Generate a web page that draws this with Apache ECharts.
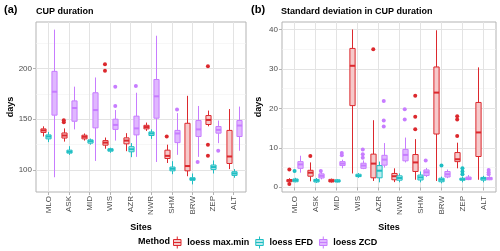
<!DOCTYPE html>
<html><head><meta charset="utf-8">
<script src="https://cdn.jsdelivr.net/npm/echarts@6/dist/echarts.min.js"></script>
<style>html,body{margin:0;padding:0;background:#fff}#c{width:500px;height:251px}</style>
</head><body><div id="c"></div>
<script>
const sites = ['MLO','ASK','MID','WIS','AZR','NWR','SHM','BRW','ZEP','ALT'];
const methods = ['loess max.min','loess EFD','loess ZCD'];
const ticksA = [100,150,200];
const minorA = [125,175,225];
const ticksB = [0,10,20,30,40];
const minorB = [5,15,25,35];

// Panel (a) CUP duration: [min, q1, median, q3, max] per site
const durMaxMin = [[133,137,139,140.5,143],[128,131.5,134,136.5,141],[129,130.7,132.7,134.3,136],[121,124.5,127,129,132],[118.6,125.8,129,131.7,136.3],[138.5,140.5,142.3,144,146.7],[107,111.4,114,119.6,125],[94,99.3,104,146,173],[143,144.8,149.3,153.6,158.5],[101,106.5,113.4,139,160]];
const durEFD = [[127.5,130.7,133,134.6,137.5],[115,116.7,118,119.6,123.5],[125,126.5,128.4,129.7,131],[117,118.6,119.9,121,122],[112.7,118,120.5,123,126.5],[130.7,134,136,137.5,140],[96,99.3,101.3,103,108.8],[86,90,91.2,92.5,96.7],[96.7,100.7,103,105,109.5],[92.5,94.8,96.7,98.4,101]];
const durZCD = [[93,154,177,197,238],[140,148,161,168,182],[109,141.5,159,176,191],[129,140,144.4,150,159],[113,134.6,141,153,176],[108,151,172.5,189,232],[115,127,136,139,156],[113,133,140,148.7,163],[126.5,136.3,139.5,142.8,148.7],[119,133,143.8,148.7,162.4]];
// outliers: [site number, value]
const durMaxMinOut = [[2,147],[2,149],[4,197.5],[4,204],[7,133],[9,202],[9,125],[9,114]];
const durEFDOut = [];
const durZCDOut = [[4,163],[4,182],[5,182.6],[7,159.5],[8,108],[9,119]];

// Panel (b) SD of CUP duration
const sdMaxMin = [[1.0,1.4,1.7,1.95,2.3],[1.5,2.8,3.7,4.3,6.3],[1.2,1.35,1.6,2.0,2.2],[3.5,20.7,30.8,35.2,40],[1.6,2.4,6.0,8.4,17],[1.3,1.9,2.8,3.5,4.8],[1.9,4.0,6.3,8.3,12.2],[1.6,13.5,24,30.5,39.8],[4.8,6.5,7.1,8.8,11.3],[1.9,7.8,13.9,21.5,30.4]];
const sdEFD = [[1.25,1.4,1.8,2.1,2.4],[1.1,1.34,1.7,2.0,2.35],[1.25,1.35,1.55,1.9,2.1],[2.4,2.7,2.9,3.3,3.6],[1.25,2.4,4.2,5.5,6.5],[1.25,1.8,2.35,2.9,3.5],[1.25,1.85,2.5,3.1,4.0],[1.0,1.4,1.9,2.3,2.7],[1.25,1.8,2.0,2.3,2.7],[1.25,1.8,2.2,2.5,2.9]];
const sdZCD = [[3.7,4.8,5.8,6.5,8.0],[2.0,2.35,2.9,3.4,3.9],[4.8,5.5,6.0,6.5,7.0],[4.6,4.8,5.5,6.1,6.8],[5.0,5.6,7.0,8.1,11.2],[6.3,6.7,8.2,9.6,12.6],[2.6,3.0,3.8,4.4,4.9],[2.3,2.6,3.3,4.0,4.5],[1.8,1.95,2.25,2.6,3.1],[1.8,1.9,2.2,2.5,2.8]];
const sdMaxMinOut = [[1,4.5],[1,0.8],[2,7.9],[5,35],[7,14.7],[7,17.9],[7,23.2],[9,13],[9,17.2],[9,18]];
const sdEFDOut = [[1,4.1],[8,5.5],[9,3.3],[9,4.0],[9,4.8]];
const sdZCDOut = [[2,4.1],[3,8.1],[3,8.7],[4,7.5],[4,8.4],[4,9.6],[5,15.4],[5,16.9],[5,21.9],[6,17.2],[6,19.8],[7,6.8],[10,3.3],[10,3.8],[10,4.4]];

const colors = ['#DC282D','#1EBEC3','#C77CFF'];
const fills = ['rgba(220,40,45,0.25)','rgba(30,190,195,0.3)','rgba(199,124,255,0.55)'];
const offsets = [-0.25, 0, 0.25];
const BOXW = 0.25;
const FONT = 'Liberation Sans, Arial, sans-serif';

function boxRender(off, color, fill) {
  return function (params, api) {
    const x = api.value(0) + off;
    const lo = api.coord([x, api.value(1)]);
    const q1 = api.coord([x, api.value(2)]);
    const md = api.coord([x, api.value(3)]);
    const q3 = api.coord([x, api.value(4)]);
    const hi = api.coord([x, api.value(5)]);
    const w = api.size([BOXW, 0])[0];
    const cx = Math.round(lo[0]) + 0.5;
    return {
      type: 'group',
      children: [
        {type:'line', shape:{x1:cx,y1:lo[1],x2:cx,y2:q1[1]}, style:{stroke:color,lineWidth:1}},
        {type:'line', shape:{x1:cx,y1:q3[1],x2:cx,y2:hi[1]}, style:{stroke:color,lineWidth:1}},
        {type:'rect', shape:{x:cx-w/2,y:q3[1],width:w,height:q1[1]-q3[1]}, style:{fill:'#fff',stroke:null}},
        {type:'rect', shape:{x:cx-w/2,y:q3[1],width:w,height:q1[1]-q3[1]}, style:{fill:fill,stroke:color,lineWidth:1}},
        {type:'line', shape:{x1:cx-w/2,y1:md[1],x2:cx+w/2,y2:md[1]}, style:{stroke:color,lineWidth:2}}
      ]
    };
  };
}

function boxSeries(arr, m, gi) {
  return {
    type: 'custom', name: methods[m], xAxisIndex: gi, yAxisIndex: gi*2,
    renderItem: boxRender(offsets[m], colors[m], fills[m]),
    itemStyle: {color: fills[m], borderColor: colors[m]},
    encode: {x: 0, y: [1,2,3,4,5]},
    data: arr.map((d, i) => [i + 1].concat(d)),
    z: 3, clip: true
  };
}
function outSeries(arr, m, gi) {
  return {
    type: 'scatter', name: methods[m], xAxisIndex: gi, yAxisIndex: gi*2,
    symbolSize: 4, itemStyle: {color: colors[m], opacity: 1},
    data: arr.map(d => [d[0] + offsets[m], d[1]]),
    z: 4, silent: true
  };
}

function xAxis(gi) {
  return {
    type: 'value', gridIndex: gi, min: 0.4, max: 10.6,
    name: 'Sites', nameLocation: 'middle', nameGap: 26,
    nameTextStyle: {fontFamily: FONT, fontSize: 9, fontWeight: 'bold', color: '#000'},
    axisLine: {show: false},
    axisTick: {show: true, length: 3, lineStyle: {color: '#b3b3b3'}, customValues: [1,2,3,4,5,6,7,8,9,10]},
    axisLabel: {rotate: 90, margin: 4, fontFamily: FONT, fontSize: 8, color: '#4d4d4d',
      customValues: [1,2,3,4,5,6,7,8,9,10], formatter: v => sites[Math.round(v) - 1] || ''},
    splitLine: {show: true, lineStyle: {color: '#e3e3e3', width: 1}}
  };
}
function yAxes(gi, min, max, ticks, minor, gap) {
  return [{
    type: 'value', gridIndex: gi, min: min, max: max,
    name: 'days', nameLocation: 'middle', nameGap: gap,
    nameTextStyle: {fontFamily: FONT, fontSize: 9, fontWeight: 'bold', color: '#000'},
    axisLine: {show: false},
    axisTick: {show: true, length: 3, lineStyle: {color: '#b3b3b3'}, customValues: ticks},
    axisLabel: {margin: 4, fontFamily: FONT, fontSize: 8, color: '#4d4d4d', customValues: ticks},
    splitLine: {show: true, lineStyle: {color: '#e3e3e3', width: 1}}
  }, {
    type: 'value', gridIndex: gi, min: min, max: max, position: 'left',
    axisLine: {show: false},
    axisTick: {show: false, customValues: minor},
    axisLabel: {show: false, customValues: minor},
    splitLine: {show: true, lineStyle: {color: '#f2f2f2', width: 0.6}}
  }];
}

const series = [
  boxSeries(durMaxMin, 0, 0), boxSeries(durEFD, 1, 0), boxSeries(durZCD, 2, 0),
  outSeries(durMaxMinOut, 0, 0), outSeries(durEFDOut, 1, 0), outSeries(durZCDOut, 2, 0),
  boxSeries(sdMaxMin, 0, 1), boxSeries(sdEFD, 1, 1), boxSeries(sdZCD, 2, 1),
  outSeries(sdMaxMinOut, 0, 1), outSeries(sdEFDOut, 1, 1), outSeries(sdZCDOut, 2, 1)
];

const icon = 'path://M3,4L13,4L13,12L3,12Z M8,0L8,4 M8,12L8,16 M3,8L13,8';
const chart = echarts.init(document.getElementById('c'), null, {renderer: 'canvas'});
chart.setOption({
  animation: false,
  backgroundColor: '#fff',
  title: [
    {text: '(a)', left: 4, top: 4, padding: 0, textStyle: {fontFamily: FONT, fontSize: 11, fontWeight: 'bold', color: '#000'}},
    {text: 'CUP duration', left: 36, top: 7, padding: 0, textStyle: {fontFamily: FONT, fontSize: 9, fontWeight: 'bold', color: '#000'}},
    {text: '(b)', left: 251, top: 4, padding: 0, textStyle: {fontFamily: FONT, fontSize: 11, fontWeight: 'bold', color: '#000'}},
    {text: 'Standard deviation in CUP duration', left: 281, top: 7, padding: 0, textStyle: {fontFamily: FONT, fontSize: 9, fontWeight: 'bold', color: '#000'}},
    {text: 'Method', left: 138, top: 237, padding: 0, textStyle: {fontFamily: FONT, fontSize: 9, fontWeight: 'bold', color: '#000'}}
  ],
  legend: {
    left: 173, top: 236, itemWidth: 10, itemHeight: 12, itemGap: 6, padding: 0,
    textStyle: {fontFamily: FONT, fontSize: 9, fontWeight: 'bold', color: '#000'},
    data: methods.map((m, i) => ({name: m, icon: icon, itemStyle: {color: fills[i], borderColor: colors[i], borderWidth: 1}}))
  },
  grid: [
    {left: 36, top: 22, width: 210, height: 170, show: true, borderColor: '#b3b3b3', borderWidth: 1, backgroundColor: '#fff'},
    {left: 282, top: 22, width: 214, height: 170, show: true, borderColor: '#b3b3b3', borderWidth: 1, backgroundColor: '#fff'}
  ],
  xAxis: [xAxis(0), xAxis(1)],
  yAxis: yAxes(0, 78.5, 245.5, ticksA, minorA, 19).concat(yAxes(1, -1.2, 41.9, ticksB, minorB, 19)),
  series: series
});
</script></body></html>
